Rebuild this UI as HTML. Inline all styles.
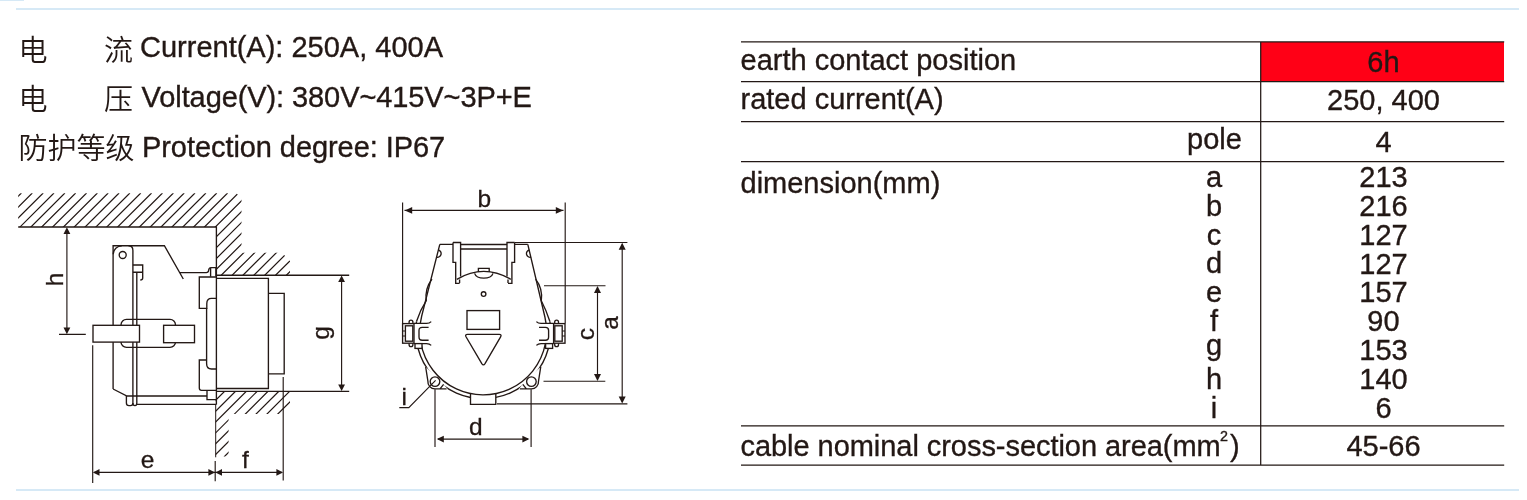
<!DOCTYPE html>
<html lang="zh">
<head>
<meta charset="utf-8">
<title>Socket 250A/400A</title>
<style>
html,body{margin:0;padding:0;background:#fff;}
body{width:1527px;height:500px;position:relative;overflow:hidden;color:#231815;
 font-family:"Liberation Sans","Noto Sans CJK SC",sans-serif;}
#sheet{position:absolute;left:0;top:0;width:1527px;height:500px;will-change:transform;}
.rule{position:absolute;background:#d6e9f6;}
.spec{position:absolute;left:0;margin:0;font-size:29px;line-height:32px;white-space:nowrap;}
.spec .cj{font-weight:350;position:absolute;left:18.5px;top:4px;}
.spec .en{position:absolute;left:140px;top:0;}
#l2 .en{letter-spacing:-0.09px}
#l3 .en{letter-spacing:-0.07px}
.t,.spec .en{-webkit-text-stroke:0.35px #231815;}
.t{position:absolute;font-size:29px;line-height:32px;white-space:nowrap;}
.t.l{left:740.5px;}
.t.k{left:1164px;width:100px;text-align:center;}
.t.v{left:1283.5px;width:200px;text-align:center;}
sup{font-size:14.3px;line-height:0;vertical-align:14.3px;margin:0 2px 0 -0.6px;}
</style>
</head>
<body>
<div id="sheet">
<div class="rule" style="left:0;top:0;width:24px;height:1px"></div>
<div class="rule" style="left:16px;top:8px;width:1503px;height:2px"></div>
<div class="rule" style="left:16px;top:489px;width:1503px;height:2px"></div>

<div class="spec" id="l1" style="top:31px"><span class="cj">电</span><span class="cj" style="left:104px">流</span><span class="en">Current(A): 250A, 400A</span></div>
<div class="spec" id="l2" style="top:81px"><span class="cj" style="top:3px">电</span><span class="cj" style="left:104px;top:3px">压</span><span class="en" style="left:141.6px">Voltage(V): 380V~415V~3P+E</span></div>
<div class="spec" id="l3" style="top:131px"><span class="cj" style="top:2.3px">防护等级</span><span class="en" style="left:142px">Protection degree: IP67</span></div>

<div class="red" style="position:absolute;left:1261px;top:42px;width:243px;height:40px;background:#ff0016"></div>
<div class="t l" style="top:43.6px">earth contact position</div>
<div class="t l" style="top:82.5px">rated current(A)</div>
<div class="t l" style="top:167.0px">dimension(mm)</div>
<div class="t l" style="top:429.7px;letter-spacing:-0.05px">cable nominal cross-section area(mm<sup>2</sup>)</div>
<div class="t" style="left:1187px;top:122.8px">pole</div>
<div class="t v" style="top:45.5px">6h</div>
<div class="t v" style="top:83.6px">250, 400</div>
<div class="t v" style="top:125.7px">4</div>
<div class="t k" style="top:160.8px">a</div><div class="t v" style="top:161.0px">213</div>
<div class="t k" style="top:189.7px">b</div><div class="t v" style="top:189.9px">216</div>
<div class="t k" style="top:218.5px">c</div><div class="t v" style="top:218.7px">127</div>
<div class="t k" style="top:247.4px">d</div><div class="t v" style="top:247.6px">127</div>
<div class="t k" style="top:276.2px">e</div><div class="t v" style="top:276.4px">157</div>
<div class="t k" style="top:305.1px">f</div><div class="t v" style="top:305.3px">90</div>
<div class="t k" style="top:329.0px">g</div><div class="t v" style="top:334.2px">153</div>
<div class="t k" style="top:362.8px">h</div><div class="t v" style="top:363.0px">140</div>
<div class="t k" style="top:391.7px">i</div><div class="t v" style="top:391.9px">6</div>
<div class="t v" style="top:429.8px">45-66</div>

<!--SVG-->
<svg id="dwg" width="1527" height="500" viewBox="0 0 1527 500" style="position:absolute;left:0;top:0" fill="none" stroke="#231815" stroke-width="1.35" stroke-linecap="butt" stroke-linejoin="miter">
<defs>
<clipPath id="h1"><polygon points="18.2,193.2 236.5,193.2 241.5,199 241.5,252.8 282,252.8 290,261 290,275.2 216.4,275.2 216.4,227 18.2,227"/></clipPath>
<clipPath id="h2"><polygon points="215.6,391.3 290,391.3 290,405.5 281.5,414 228.6,414 228.6,456.5 215.6,456.5"/></clipPath>
</defs>
<path clip-path="url(#h1)" stroke-width="1.2" d="M-61.6,276.0L21.4,193.0M-50.7,276.0L32.3,193.0M-39.8,276.0L43.2,193.0M-29.0,276.0L54.0,193.0M-18.1,276.0L64.9,193.0M-7.3,276.0L75.7,193.0M3.6,276.0L86.6,193.0M14.4,276.0L97.4,193.0M25.2,276.0L108.2,193.0M36.1,276.0L119.1,193.0M46.9,276.0L129.9,193.0M57.8,276.0L140.8,193.0M68.6,276.0L151.6,193.0M79.5,276.0L162.5,193.0M90.4,276.0L173.4,193.0M101.2,276.0L184.2,193.0M112.0,276.0L195.0,193.0M122.9,276.0L205.9,193.0M133.8,276.0L216.8,193.0M144.6,276.0L227.6,193.0M155.4,276.0L238.4,193.0M166.3,276.0L249.3,193.0M177.1,276.0L260.1,193.0M188.0,276.0L271.0,193.0M198.9,276.0L281.9,193.0M209.7,276.0L292.7,193.0M220.5,276.0L303.5,193.0M231.4,276.0L314.4,193.0M242.2,276.0L325.2,193.0M253.1,276.0L336.1,193.0M264.0,276.0L347.0,193.0M274.8,276.0L357.8,193.0M285.6,276.0L368.6,193.0"/>
<path clip-path="url(#h2)" stroke-width="1.2" d="M148.0,457.0L214.0,391.0M158.9,457.0L224.9,391.0M169.8,457.0L235.8,391.0M180.6,457.0L246.6,391.0M191.5,457.0L257.5,391.0M202.3,457.0L268.3,391.0M213.1,457.0L279.1,391.0M224.0,457.0L290.0,391.0M234.8,457.0L300.8,391.0M245.7,457.0L311.7,391.0M256.5,457.0L322.5,391.0M267.4,457.0L333.4,391.0M278.2,457.0L344.2,391.0M289.1,457.0L355.1,391.0"/>
<g id="side-view">
<path d="M18.2,227H216.4V404.4 M216.4,275.2H349.2 M216.4,391.3H349.2"/>
<path stroke-width="1" d="M215.7,404.4V457.3"/>
<path d="M216.4,278.4H268.4V388.5H216.4 M268.4,293.4H284.2V373.8H268.4"/>
<path d="M216.4,277H199.3V308.3H206.8V303.5Q206.8,298.3 211.5,298.3H216.4"/>
<path d="M206.6,308.3V363.5Q206.6,369 211.5,369H216.4"/>
<path d="M206.6,360H199.3V388Q199.3,390.3 201.5,390.3H216.4 M207,390.3V399.6H216.4"/>
<path d="M113.1,389V245.7H164.4L183.3,279 M180,272.6H206.3Q208.4,272.6 208.6,270.5Q208.8,267.6 211,267.6H215.9V276.5 M210.6,268V276.8"/>
<path d="M113.1,389L127,396H207"/>
<path d="M136.8,404.4H216.4"/>
<path d="M113.2,254.2A8.6,8.6 0 0 1 121.8,245.8 M128.5,245.7Q132.9,245.7 132.9,250.5V403Q132.9,405.6 130.5,405.6H129Q126.4,405.6 126.4,403V396"/>
<path d="M132.9,403Q132.9,405.6 135,405.6Q136.8,405.6 136.8,403V272.2"/>
<circle cx="122.7" cy="255" r="3.5"/>
<path d="M132.9,265H142.7V272.2H132.9 M142.7,272.2V278Q142.7,280 140.3,280"/>
<rect x="121" y="319.4" width="54.5" height="28" rx="5.5" ry="5.5"/>
<rect x="93" y="325.3" width="46.5" height="16.8" fill="#fff"/>
<rect x="163.6" y="325.3" width="30.9" height="17.4" fill="#fff"/>
</g>
<g id="side-dims" stroke-width="1.15">
<path d="M66.9,229V332 M59,334.3H85.8"/>
<polygon fill="#231815" stroke="none" points="66.9,227.3 63.5,233.9 70.3,233.9"/>
<polygon fill="#231815" stroke="none" points="66.9,334.2 63.5,327.6 70.3,327.6"/>
<path d="M92.7,345.2V483 M215.2,461V481.2 M283.2,377V480.6 M94,472.4H282"/>
<polygon fill="#231815" stroke="none" points="92.9,472.4 99.5,469.0 99.5,475.8"/>
<polygon fill="#231815" stroke="none" points="215.0,472.4 208.4,469.0 208.4,475.8"/>
<polygon fill="#231815" stroke="none" points="215.4,472.4 222.0,469.0 222.0,475.8"/>
<polygon fill="#231815" stroke="none" points="283.0,472.4 276.4,469.0 276.4,475.8"/>
<path d="M341.6,277V389.5"/>
<polygon fill="#231815" stroke="none" points="341.6,275.4 338.2,282.0 345.0,282.0"/>
<polygon fill="#231815" stroke="none" points="341.6,391.1 338.2,384.5 345.0,384.5"/>
</g>
<g id="front-view">
<path d="M416.5,321.5A67.4,67.4 0 1 0 549.9,321.5"/>
<path d="M432.0,279.1Q424.6,288.5 426.3,300.7Q420.2,310 416.5,321.5"/>
<path d="M535.6,279.1Q543.0,288.5 541.3,300.7Q546.2,310 549.9,321.5"/>
<path stroke="none" fill="#fff" d="M424.4,365.5L426.7,381.2A7.1,7.1 0 0 0 435.0,388.9H447.6L443.6,384.3Z"/>
<path d="M425.6,366.5L427.9,381.2A7.1,7.1 0 0 0 435.0,388.9H446.6 M440.0,388.9L443.6,384.3"/>
<circle cx="435.0" cy="381.6" r="4.8"/>
<path stroke="none" fill="#fff" d="M542.0,365.5L539.7,381.2A7.1,7.1 0 0 1 531.4,388.9H518.8L522.8,384.3Z"/>
<path d="M540.8,366.5L538.5,381.2A7.1,7.1 0 0 1 531.4,388.9H519.8 M526.4,388.9L522.8,384.3"/>
<circle cx="531.4" cy="381.6" r="4.8"/>
<path fill="#fff" d="M470.5,393.9V404.3H495.8V393.9"/>
<path d="M439.8,244.3L421.7,316.0A63.4,63.4 0 1 0 544.9,317.0L527.8,244.3"/>
<path d="M439.8,244.3H453 M514.6,244.3H527.8 M460.6,244.5H507.0 M460.6,249H507.0"/>
<path d="M453.0,242.5H460.6V276.5 M453.0,242.5V262.3H455.7V283.4H459.6 M459.6,279.5V283"/>
<path d="M438.3,250A3.6,3.6 0 0 1 436.5,257.2"/>
<path d="M514.6,242.5H507.0V276.5 M514.6,242.5V262.3H511.9V283.4H508.0 M508.0,279.5V283"/>
<path d="M529.3,250A3.6,3.6 0 0 0 531.1,257.2"/>
<path d="M456.8,279.3Q483.8,263.5 510.8,279.3"/>
<path d="M478.4,272V268.4H489.2V272 M474.6,273.4A9.3,5.6 0 0 0 493,273.4" />
<circle cx="483.6" cy="294" r="2.3"/>
<rect x="467" y="310.6" width="32.6" height="18.8"/>
<path d="M467.5,334.4H499.2Q502,334.4 500.6,336.8L485,363.6Q483.4,366 481.8,363.6L466,336.8Q464.8,334.4 467.5,334.4Z"/>
<rect x="413.0" y="323.4" width="18.5" height="20.2" fill="#fff" stroke="none"/>
<rect x="402.6" y="323.6" width="11.4" height="19.6" fill="#fff"/>
<rect x="405.4" y="325.8" width="7.4" height="15.4" fill="#fff"/>
<path d="M409.1,323.6V322A1.9,1.9 0 0 1 412.9,322V323.6"/>
<path d="M409.1,343.2V344.8A1.9,1.9 0 0 0 412.9,344.8V343.2"/>
<path d="M402.6,331H405.4 M402.6,336H405.4" stroke-width="1"/>
<path d="M414.0,323.4H426.5Q429.5,323.4 431.2,321.6 M414.0,343.6H426.5Q429.5,343.6 431.2,345.4"/>
<path d="M428.6,327.4H422.2Q419.0,327.4 419.0,330.5V337Q419.0,340.2 422.2,340.2H428.6"/>
<rect x="415.0" y="343.6" width="7.0" height="4.8" fill="#fff"/>
<rect x="536.1" y="323.4" width="18.5" height="20.2" fill="#fff" stroke="none"/>
<rect x="553.6" y="323.6" width="11.4" height="19.6" fill="#fff"/>
<rect x="554.8" y="325.8" width="7.4" height="15.4" fill="#fff"/>
<path d="M558.5,323.6V322A1.9,1.9 0 0 0 554.7,322V323.6"/>
<path d="M558.5,343.2V344.8A1.9,1.9 0 0 1 554.7,344.8V343.2"/>
<path d="M565.0,331H562.2 M565.0,336H562.2" stroke-width="1"/>
<path d="M553.6,323.4H541.1Q538.1,323.4 536.4,321.6 M553.6,343.6H541.1Q538.1,343.6 536.4,345.4"/>
<path d="M539.0,327.4H545.4Q548.6,327.4 548.6,330.5V337Q548.6,340.2 545.4,340.2H539.0"/>
<rect x="545.6" y="343.6" width="7.0" height="4.8" fill="#fff"/>
</g>
<g id="front-dims" stroke-width="1.15">
<path d="M402.6,202.4V323.6 M565.2,202.4V323.2 M404.5,210.4H563.5"/>
<polygon fill="#231815" stroke="none" points="404.8,210.4 412.2,207.1 412.2,213.7"/>
<polygon fill="#231815" stroke="none" points="563.2,210.4 555.8,207.1 555.8,213.7"/>
<path d="M514.6,242.5H627.4 M497,403.8H627.4 M622.2,244.5V401.8"/>
<polygon fill="#231815" stroke="none" points="622.2,242.7 618.7,249.7 625.7,249.7"/>
<polygon fill="#231815" stroke="none" points="622.2,403.6 618.7,396.6 625.7,396.6"/>
<path d="M544,285.7H605.5 M543.5,381.2H605.3 M597.5,287.5V379.5"/>
<polygon fill="#231815" stroke="none" points="597.5,285.9 594.0,292.9 601.0,292.9"/>
<polygon fill="#231815" stroke="none" points="597.5,381.0 594.0,374.0 601.0,374.0"/>
<path d="M435,389.2V447 M531.1,389.2V447 M438,439.1H528"/>
<polygon fill="#231815" stroke="none" points="436.8,439.1 443.8,435.8 443.8,442.4"/>
<polygon fill="#231815" stroke="none" points="529.4,439.1 522.4,435.8 522.4,442.4"/>
<path d="M399.3,407.6H408.8L435.6,380.4"/>
</g>
<g id="labels" fill="#231815" stroke="#231815" stroke-width="0.3" font-family="'Liberation Sans',sans-serif" font-size="24.5" text-anchor="middle">
<text transform="translate(63.0,279.4) rotate(-90)">h</text>
<text transform="translate(329.3,333.0) rotate(-90)">g</text>
<text x="147.6" y="467.8">e</text>
<text x="245.3" y="467.8">f</text>
<text x="484.2" y="207.0">b</text>
<text x="475.8" y="435.4">d</text>
<text x="404.2" y="404.6">i</text>
<text transform="translate(617.6,323.0) rotate(-90)">a</text>
<text transform="translate(593.6,334.2) rotate(-90)">c</text>
</g>
<g id="table-rules" stroke-width="1.25">
<path d="M741,41.9H1504.2M741,81.5H1504.2M741,121.6H1504.2M741,161.6H1504.2M741,425.8H1504.2M741,465.2H1504.2 M1260.7,41.3V465.8"/>
</g>
</svg>
<!--/SVG-->
</div>
</body>
</html>
